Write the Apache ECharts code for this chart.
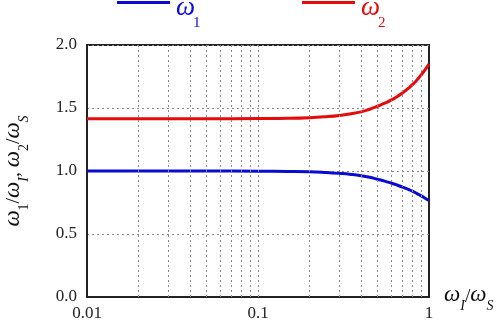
<!DOCTYPE html>
<html>
<head>
<meta charset="utf-8">
<script src="https://cdn.jsdelivr.net/npm/echarts@6/dist/echarts.min.js"></script>
<style>
  html, body { margin: 0; padding: 0; background: #fff; }
  #chart { width: 496px; height: 325px; }
</style>
</head>
<body>
<div id="chart"></div>
<script>
// x: omega_I / omega_S (log scale)
const ratios = [0.01, 0.02, 0.05, 0.1, 0.15, 0.2, 0.25, 0.3, 0.35, 0.4, 0.45, 0.5,
                0.55, 0.6, 0.65, 0.7, 0.75, 0.8, 0.85, 0.9, 0.95, 1.0];
const omega1 = [1.0, 1.0, 1.0, 0.999, 0.997, 0.994, 0.988, 0.981, 0.973, 0.963, 0.950, 0.934,
                0.920, 0.905, 0.889, 0.872, 0.856, 0.840, 0.821, 0.803, 0.784, 0.765];
const omega2 = [1.414, 1.414, 1.414, 1.416, 1.418, 1.423, 1.431, 1.441, 1.454, 1.469, 1.490, 1.514,
                1.538, 1.562, 1.590, 1.620, 1.652, 1.685, 1.722, 1.762, 1.804, 1.848];
const xGridValues = [0.02, 0.03, 0.04, 0.05, 0.06, 0.07, 0.08, 0.09, 0.1,
                     0.2, 0.3, 0.4, 0.5, 0.6, 0.7, 0.8, 0.9];
const seriesNames = ['1', '2'];

const BLUE = '#0a0ad2';
const RED = '#e60a0a';
const SERIF = 'Liberation Serif, DejaVu Serif, serif';

const pairs = (xs, ys) => xs.map((x, i) => [x, ys[i]]);

// rich text pieces for omega with subscripts
function symRich(size, subSize, color) {
    return {
        w: {fontFamily: SERIF, fontSize: size, fontStyle: 'italic', color: color,
            lineHeight: size, verticalAlign: 'bottom', padding: [0, 0, Math.round(size * 0.3), 0]},
        s: {fontFamily: SERIF, fontSize: subSize, color: color,
            lineHeight: subSize, verticalAlign: 'bottom'},
        si: {fontFamily: SERIF, fontSize: subSize, fontStyle: 'italic', color: color,
             lineHeight: subSize, verticalAlign: 'bottom'},
        t: {fontFamily: SERIF, fontSize: size * 0.85, color: color,
            lineHeight: size, verticalAlign: 'bottom', padding: [0, 0, Math.round(size * 0.3), 0]}
    };
}

// legend drawn by hand: line sample, omega, subscript
function legendItem(x0, color, sub) {
    return [
        {type: 'rect', shape: {x: x0, y: 1, width: 53, height: 3}, style: {fill: color}},
        {type: 'text', x: x0 + 59, y: 8,
         style: {text: 'ω', font: 'italic 27px ' + SERIF, fill: color, verticalAlign: 'middle'}},
        {type: 'text', x: x0 + 76, y: 23,
         style: {text: sub, font: '15px ' + SERIF, fill: color, verticalAlign: 'middle'}}
    ];
}

const chart = echarts.init(document.getElementById('chart'));
chart.setOption({
    animation: false,
    graphic: [].concat(legendItem(117, BLUE, seriesNames[0]), legendItem(302, RED, seriesNames[1])),
    grid: {
        left: 87, right: 67, top: 45, bottom: 28,
        outerBoundsMode: 'none',
        containLabel: false,
        show: true, borderColor: '#222', borderWidth: 2
    },
    xAxis: {
        type: 'log',
        logBase: 10,
        min: 0.01,
        max: 1,
        name: '{w|ω}{si|I}{t|/}{w|ω}{si|S}',
        nameLocation: 'end',
        nameGap: 15,
        nameTextStyle: {rich: symRich(23, 14, '#111'), padding: [10, 0, 0, 0]},
        axisLine: {lineStyle: {color: '#222', width: 2}},
        axisTick: {show: false},
        splitLine: {show: false},
        axisLabel: {
            fontFamily: SERIF, fontSize: 17, color: '#222', margin: 8,
            formatter: v => String(+(+v).toPrecision(3))
        }
    },
    yAxis: {
        type: 'value',
        min: 0,
        max: 2,
        interval: 0.5,
        name: '{w|ω}{s|1}{t|/}{w|ω}{si|I}{t|, }{w|ω}{s|2}{t|/}{w|ω}{si|S}',
        nameLocation: 'middle',
        nameRotate: 90,
        nameGap: 56,
        nameTextStyle: {rich: symRich(23, 14, '#111')},
        axisLine: {show: true, lineStyle: {color: '#222', width: 2}},
        axisTick: {show: false},
        splitLine: {lineStyle: {color: '#8a8a8a', type: [2, 3], width: 1}},
        axisLabel: {
            fontFamily: SERIF, fontSize: 17, color: '#222', margin: 10,
            formatter: v => v.toFixed(1)
        }
    },
    series: [
        {
            name: 'grid',
            type: 'line',
            data: [],
            z: 1,
            silent: true,
            markLine: {
                silent: true,
                symbol: ['none', 'none'],
                label: {show: false},
                lineStyle: {color: '#8a8a8a', type: [2, 3], width: 1},
                data: xGridValues.map(v => ({xAxis: v}))
            }
        },
        {
            name: 'ω' + seriesNames[0],
            type: 'line',
            z: 3,
            smooth: 0.5,
            showSymbol: false,
            color: BLUE,
            lineStyle: {width: 3, color: BLUE},
            data: pairs(ratios, omega1)
        },
        {
            name: 'ω' + seriesNames[1],
            type: 'line',
            z: 3,
            smooth: 0.5,
            showSymbol: false,
            color: RED,
            lineStyle: {width: 3, color: RED},
            data: pairs(ratios, omega2)
        }
    ]
});
</script>
</body>
</html>
